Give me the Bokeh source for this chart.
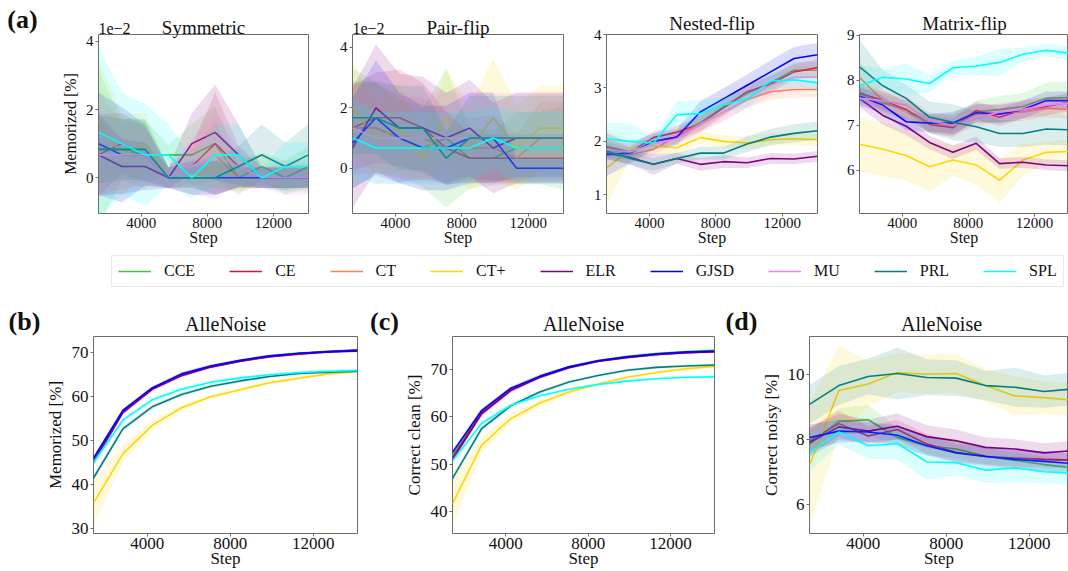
import numpy as np
from bokeh.plotting import figure
from bokeh.models import (Range1d, FixedTicker, Legend, LegendItem,
                          BasicTickFormatter, LinearAxis)
from bokeh.layouts import column, row
from bokeh.embed import file_html
from bokeh.resources import INLINE

FONT = "Liberation Serif"

STEPS = [1413, 2826, 4239, 5652, 7065, 8478, 9891, 11304, 12717, 14130]
METHODS = ["CCE", "CE", "CT", "CT+", "ELR", "GJSD", "MU", "PRL", "SPL"]
COLORS = {"CCE": "#32CD32", "CE": "#DC143C", "CT": "#FF7F50", "CT+": "#FFD700",
          "ELR": "#800080", "GJSD": "#0000FF", "MU": "#EE82EE", "PRL": "#008080",
          "SPL": "#00FFFF"}
X_TICKS = [4000, 8000, 12000]

# (a) Symmetric, memorized [%] in units of 1e-2
SYM_MEAN = {
    "CCE": [0.83, 0.83, 0.67, 0.67, 0.67, 1.0, 0.0, 0.33, 0.0, 0.33],
    "CE": [0.67, 1.0, 0.67, 0.0, 0.33, 1.0, 0.33, 0.0, 0.0, 0.0],
    "CT": [1.0, 0.67, 0.67, 0.0, 0.33, 0.67, 0.0, 0.0, 0.0, 0.0],
    "CT+": [1.67, 0.67, 1.0, 0.0, 0.0, 0.33, 0.0, 0.0, 0.0, 0.0],
    "ELR": [0.67, 0.33, 0.33, 0.0, 1.0, 1.33, 0.67, 0.0, 0.0, 0.0],
    "GJSD": [1.0, 0.67, 0.67, 0.0, 0.0, 0.0, 0.0, 0.0, 0.0, 0.0],
    "MU": [0.67, 0.67, 0.67, 0.0, 0.33, 0.67, 0.33, 0.0, 0.0, 0.0],
    "PRL": [0.83, 0.83, 0.83, 0.0, 0.0, 0.0, 0.33, 0.67, 0.33, 0.67],
    "SPL": [1.33, 1.0, 0.67, 0.67, 0.0, 0.67, 0.67, 0.0, 0.33, 0.33],
}
SYM_STD = {
    "CCE": [2.3, 0.9, 1.0, 0.3, 0.9, 1.1, 0.5, 0.4, 0.5, 0.6],
    "CE": [1.2, 0.9, 0.8, 0.3, 0.6, 1.5, 0.6, 0.3, 0.3, 0.3],
    "CT": [1.5, 1.0, 0.9, 0.3, 0.5, 1.0, 0.4, 0.3, 0.4, 0.4],
    "CT+": [1.8, 1.2, 0.9, 0.3, 0.5, 0.6, 0.3, 0.3, 0.3, 0.3],
    "ELR": [1.2, 0.8, 0.7, 0.3, 0.9, 1.4, 0.9, 0.3, 0.3, 0.3],
    "GJSD": [1.5, 1.4, 0.9, 0.3, 0.5, 0.5, 0.3, 0.3, 0.3, 0.3],
    "MU": [1.3, 0.8, 0.8, 0.3, 0.8, 1.3, 0.5, 0.3, 0.5, 0.5],
    "PRL": [1.0, 0.9, 0.9, 0.3, 0.3, 0.5, 0.6, 0.9, 0.7, 0.9],
    "SPL": [2.5, 1.5, 1.5, 0.9, 0.6, 0.9, 0.9, 0.3, 0.7, 0.7],
}

# (a) Pair-flip, units of 1e-2
PAIR_MEAN = {
    "CCE": [1.33, 1.33, 1.0, 0.67, 1.0, 0.33, 0.33, 0.67, 0.67, 0.67],
    "CE": [1.33, 1.67, 1.67, 1.33, 0.67, 0.33, 0.33, 0.33, 0.33, 0.33],
    "CT": [1.33, 1.33, 1.0, 1.0, 0.67, 0.67, 0.67, 0.33, 1.0, 1.0],
    "CT+": [2.0, 1.0, 1.33, 0.33, 1.67, 0.67, 1.67, 0.67, 1.33, 1.33],
    "ELR": [0.67, 2.0, 1.33, 1.33, 1.0, 1.33, 0.67, 1.0, 1.0, 1.0],
    "GJSD": [0.83, 1.67, 1.0, 0.67, 0.67, 1.0, 1.0, 0.0, 0.0, 0.0],
    "MU": [1.33, 1.0, 1.0, 1.0, 1.0, 1.0, 1.0, 1.0, 1.0, 1.0],
    "PRL": [1.67, 1.67, 1.33, 1.33, 0.33, 1.0, 1.0, 1.0, 1.0, 1.0],
    "SPL": [1.0, 0.67, 0.67, 0.67, 0.67, 0.67, 1.0, 0.67, 0.67, 0.67],
}
PAIR_STD = {
    "CCE": [2.0, 1.5, 1.3, 1.3, 2.3, 1.0, 0.9, 1.2, 1.2, 1.4],
    "CE": [1.4, 1.5, 1.6, 1.5, 1.2, 0.8, 0.8, 0.8, 0.8, 0.8],
    "CT": [1.5, 1.5, 1.4, 1.3, 1.2, 1.0, 1.1, 0.8, 1.2, 1.2],
    "CT+": [1.5, 1.2, 1.5, 0.8, 1.6, 1.4, 2.0, 1.4, 1.4, 1.4],
    "ELR": [2.0, 2.1, 1.8, 1.7, 1.5, 1.6, 1.5, 1.5, 1.5, 1.5],
    "GJSD": [1.5, 1.9, 1.5, 1.4, 1.4, 1.5, 1.5, 0.3, 0.3, 0.3],
    "MU": [1.5, 1.5, 1.5, 1.5, 1.5, 1.5, 1.5, 1.5, 1.5, 1.5],
    "PRL": [1.2, 1.2, 1.4, 1.4, 0.9, 1.4, 1.4, 1.4, 1.4, 1.4],
    "SPL": [1.3, 1.2, 1.2, 1.2, 1.2, 1.2, 1.0, 1.2, 1.2, 1.2],
}

# (a) Nested-flip
NEST_MEAN = {
    "CCE": [1.85, 1.78, 2.0, 2.08, 2.35, 2.65, 2.9, 3.1, 3.33, 3.33],
    "CE": [1.9, 1.8, 2.07, 2.17, 2.33, 2.63, 2.93, 3.07, 3.3, 3.38],
    "CT": [1.8, 1.75, 1.85, 2.1, 2.33, 2.55, 2.78, 2.93, 2.97, 2.97],
    "CT+": [1.5, 1.85, 1.92, 1.88, 2.07, 2.0, 1.97, 2.03, 2.05, 2.03],
    "ELR": [1.78, 1.7, 1.57, 1.68, 1.57, 1.62, 1.6, 1.68, 1.67, 1.72],
    "GJSD": [1.75, 1.78, 2.0, 2.08, 2.55, 2.8, 3.05, 3.3, 3.55, 3.62],
    "MU": [1.85, 1.8, 1.95, 2.05, 2.3, 2.55, 2.8, 3.05, 3.2, 3.2],
    "PRL": [1.82, 1.68, 1.57, 1.68, 1.78, 1.78, 1.95, 2.08, 2.15, 2.2],
    "SPL": [2.05, 2.0, 1.97, 2.5, 2.52, 2.68, 2.8, 3.13, 3.15, 3.1],
}
NEST_STD = {
    "CCE": [0.15, 0.1, 0.12, 0.12, 0.15, 0.15, 0.15, 0.15, 0.15, 0.15],
    "CE": [0.15, 0.1, 0.12, 0.12, 0.15, 0.15, 0.15, 0.15, 0.15, 0.15],
    "CT": [0.12, 0.1, 0.12, 0.12, 0.15, 0.15, 0.15, 0.15, 0.15, 0.15],
    "CT+": [0.7, 0.2, 0.12, 0.12, 0.12, 0.12, 0.12, 0.12, 0.12, 0.12],
    "ELR": [0.12, 0.12, 0.2, 0.1, 0.12, 0.12, 0.1, 0.1, 0.1, 0.1],
    "GJSD": [0.4, 0.2, 0.15, 0.15, 0.2, 0.2, 0.2, 0.22, 0.22, 0.22],
    "MU": [0.12, 0.1, 0.12, 0.12, 0.15, 0.18, 0.18, 0.2, 0.2, 0.2],
    "PRL": [0.15, 0.12, 0.12, 0.1, 0.12, 0.12, 0.15, 0.15, 0.17, 0.17],
    "SPL": [0.3, 0.35, 0.1, 0.25, 0.25, 0.15, 0.15, 0.15, 0.15, 0.15],
}

# (a) Matrix-flip
MAT_MEAN = {
    "CCE": [7.7, 7.5, 7.35, 7.05, 7.05, 7.3, 7.35, 7.42, 7.6, 7.62],
    "CE": [7.72, 7.55, 7.35, 7.02, 6.95, 7.33, 7.18, 7.35, 7.42, 7.52],
    "CT": [8.07, 7.55, 7.3, 7.05, 6.98, 7.25, 7.28, 7.3, 7.38, 7.35],
    "CT+": [6.58, 6.47, 6.33, 6.08, 6.23, 6.12, 5.78, 6.23, 6.4, 6.42],
    "ELR": [7.6, 7.22, 6.98, 6.62, 6.4, 6.6, 6.15, 6.18, 6.12, 6.1],
    "GJSD": [7.65, 7.45, 7.08, 7.05, 7.05, 7.28, 7.25, 7.35, 7.55, 7.55],
    "MU": [7.6, 7.55, 7.45, 7.1, 7.0, 7.15, 7.3, 7.35, 7.45, 7.5],
    "PRL": [8.3, 7.88, 7.6, 7.18, 7.07, 6.97, 6.82, 6.82, 6.92, 6.9],
    "SPL": [7.88, 8.07, 8.03, 7.93, 8.28, 8.32, 8.4, 8.58, 8.67, 8.6],
}
MAT_STD = {
    "CCE": [0.2, 0.2, 0.2, 0.2, 0.2, 0.25, 0.3, 0.3, 0.35, 0.35],
    "CE": [0.2, 0.2, 0.2, 0.2, 0.2, 0.2, 0.2, 0.2, 0.2, 0.2],
    "CT": [0.35, 0.25, 0.2, 0.2, 0.25, 0.2, 0.2, 0.2, 0.2, 0.2],
    "CT+": [0.6, 0.6, 0.55, 0.55, 0.35, 0.45, 0.5, 0.35, 0.25, 0.25],
    "ELR": [0.2, 0.2, 0.2, 0.15, 0.15, 0.15, 0.12, 0.12, 0.12, 0.12],
    "GJSD": [0.2, 0.2, 0.2, 0.2, 0.25, 0.2, 0.2, 0.2, 0.2, 0.2],
    "MU": [0.2, 0.2, 0.2, 0.2, 0.2, 0.2, 0.2, 0.2, 0.2, 0.2],
    "PRL": [0.6, 0.35, 0.3, 0.35, 0.4, 0.35, 0.3, 0.3, 0.35, 0.35],
    "SPL": [0.45, 0.2, 0.35, 0.2, 0.15, 0.2, 0.3, 0.15, 0.15, 0.15],
}

# (b) AlleNoise memorized [%]
ALLE_MEM_MEAN = {
    "CCE": [45.5, 56.6, 61.9, 65.0, 66.9, 68.2, 69.2, 69.8, 70.3, 70.6],
    "CE": [45.2, 56.5, 61.8, 64.9, 66.8, 68.1, 69.1, 69.7, 70.2, 70.5],
    "CT+": [35.8, 47.0, 53.5, 57.5, 60.0, 61.6, 63.2, 64.2, 65.2, 65.7],
    "ELR": [45.0, 56.4, 61.7, 64.8, 66.8, 68.1, 69.1, 69.8, 70.3, 70.6],
    "GJSD": [46.0, 56.9, 62.0, 65.2, 67.0, 68.3, 69.3, 69.9, 70.2, 70.4],
    "PRL": [41.5, 52.7, 57.7, 60.5, 62.4, 63.6, 64.6, 65.3, 65.6, 65.8],
    "SPL": [45.0, 54.7, 59.3, 61.7, 63.3, 64.3, 65.0, 65.5, 65.8, 66.0],
}
ALLE_MEM_STD = {
    "CCE": [0.6, 0.5, 0.4, 0.4, 0.4, 0.3, 0.3, 0.3, 0.3, 0.3],
    "CE": [0.6, 0.5, 0.4, 0.4, 0.4, 0.3, 0.3, 0.3, 0.3, 0.3],
    "CT+": [5.0, 2.0, 1.0, 0.7, 0.5, 0.5, 0.5, 0.4, 0.4, 0.4],
    "ELR": [0.6, 0.5, 0.4, 0.4, 0.4, 0.3, 0.3, 0.3, 0.3, 0.3],
    "GJSD": [0.6, 0.5, 0.4, 0.4, 0.4, 0.3, 0.3, 0.3, 0.3, 0.3],
    "PRL": [0.8, 0.6, 0.5, 0.5, 0.4, 0.4, 0.3, 0.3, 0.3, 0.3],
    "SPL": [0.7, 0.6, 0.5, 0.5, 0.4, 0.4, 0.3, 0.3, 0.3, 0.3],
}

# (c) AlleNoise correct clean [%]
ALLE_CLEAN_MEAN = {
    "CCE": [51.8, 61.0, 65.8, 68.5, 70.5, 71.8, 72.7, 73.3, 73.7, 74.0],
    "CE": [51.3, 60.8, 65.6, 68.4, 70.4, 71.7, 72.5, 73.1, 73.5, 73.7],
    "CT+": [41.7, 54.0, 59.6, 62.9, 65.2, 66.9, 68.3, 69.3, 70.1, 70.6],
    "ELR": [51.0, 60.6, 65.5, 68.3, 70.3, 71.7, 72.5, 73.1, 73.5, 73.7],
    "GJSD": [52.5, 61.3, 66.0, 68.5, 70.5, 71.8, 72.6, 73.2, 73.6, 73.8],
    "PRL": [47.0, 57.5, 62.3, 65.2, 67.3, 68.7, 69.8, 70.4, 70.7, 70.9],
    "SPL": [50.7, 58.6, 62.4, 64.4, 65.8, 66.8, 67.5, 68.0, 68.3, 68.4],
}
ALLE_CLEAN_STD = {
    "CCE": [0.6, 0.5, 0.4, 0.4, 0.3, 0.3, 0.3, 0.3, 0.3, 0.3],
    "CE": [0.6, 0.5, 0.4, 0.4, 0.3, 0.3, 0.3, 0.3, 0.3, 0.3],
    "CT+": [4.8, 1.8, 1.0, 0.8, 0.6, 0.5, 0.4, 0.4, 0.4, 0.4],
    "ELR": [0.6, 0.5, 0.4, 0.4, 0.3, 0.3, 0.3, 0.3, 0.3, 0.3],
    "GJSD": [0.6, 0.5, 0.4, 0.4, 0.3, 0.3, 0.3, 0.3, 0.3, 0.3],
    "PRL": [0.8, 0.6, 0.4, 0.4, 0.3, 0.3, 0.3, 0.3, 0.3, 0.3],
    "SPL": [0.7, 0.5, 0.4, 0.4, 0.3, 0.3, 0.3, 0.3, 0.3, 0.3],
}

# (d) AlleNoise correct noisy [%]
ALLE_NOISY_MEAN = {
    "CCE": [7.85, 8.55, 8.6, 8.05, 7.8, 7.7, 7.48, 7.35, 7.22, 7.12],
    "CE": [7.95, 8.48, 8.1, 8.3, 7.85, 7.6, 7.47, 7.42, 7.38, 7.35],
    "CT+": [7.2, 9.5, 9.7, 10.05, 10.0, 10.02, 9.65, 9.33, 9.28, 9.2],
    "ELR": [7.9, 8.38, 8.25, 8.4, 8.08, 7.95, 7.75, 7.7, 7.58, 7.65],
    "GJSD": [8.05, 8.25, 8.22, 8.12, 7.8, 7.58, 7.47, 7.38, 7.32, 7.25],
    "PRL": [9.07, 9.65, 9.93, 10.02, 9.9, 9.88, 9.65, 9.6, 9.47, 9.55],
    "SPL": [7.6, 8.22, 7.8, 7.87, 7.3, 7.28, 7.05, 7.12, 7.0, 6.95],
}
ALLE_NOISY_STD = {
    "CCE": [0.4, 0.4, 0.45, 0.3, 0.3, 0.3, 0.25, 0.25, 0.25, 0.25],
    "CE": [0.4, 0.4, 0.3, 0.3, 0.3, 0.3, 0.25, 0.25, 0.25, 0.25],
    "CT+": [1.9, 1.4, 0.7, 0.6, 0.6, 0.6, 0.5, 0.6, 0.5, 0.5],
    "ELR": [0.45, 0.4, 0.35, 0.4, 0.35, 0.35, 0.3, 0.3, 0.3, 0.3],
    "GJSD": [0.4, 0.35, 0.3, 0.3, 0.3, 0.3, 0.3, 0.3, 0.3, 0.3],
    "PRL": [0.6, 0.6, 0.55, 0.8, 0.55, 0.55, 0.45, 0.6, 0.5, 0.5],
    "SPL": [0.6, 0.4, 0.4, 0.5, 0.55, 0.4, 0.4, 0.45, 0.35, 0.35],
}

TITLE_TICK = int(round((STEPS[0] + STEPS[-1]) / 2))


def header_axis(text, tick, size, standoff, style="normal"):
    ax = LinearAxis(ticker=FixedTicker(ticks=[tick]),
                    major_label_overrides={tick: text})
    ax.axis_line_color = None
    ax.major_tick_line_color = None
    ax.minor_tick_line_color = None
    ax.major_tick_out = 0
    ax.major_tick_in = 0
    ax.minor_tick_out = 0
    ax.minor_tick_in = 0
    ax.major_label_standoff = standoff
    ax.major_label_text_font = FONT
    ax.major_label_text_font_size = size
    ax.major_label_text_font_style = style
    ax.major_label_text_color = "#111111"
    return ax


def make_panel(width, height, bl, br, bt, bb, xr, yr, yticks, means, stds,
               title, title_size, tick_size, label_size, ylabel=None,
               offset_text=None, title_standoff=1, step_standoff=-2):
    p = figure(width=width, height=height, x_range=Range1d(*xr), y_range=Range1d(*yr),
               output_backend="svg", toolbar_location=None,
               min_border_left=bl, min_border_right=br, min_border_top=bt, min_border_bottom=bb,
               background_fill_color="white", border_fill_color="white")
    p.grid.visible = False
    p.outline_line_color = "#6b6b6b"
    p.outline_line_width = 1
    for m in METHODS:
        if m not in means:
            continue
        mu = np.array(means[m])
        sd = np.array(stds[m])
        p.varea(x=STEPS, y1=mu - sd, y2=mu + sd, fill_color=COLORS[m], fill_alpha=0.14)
        p.line(STEPS, means[m], line_color=COLORS[m], line_width=1.6)
    xax = p.below[0]
    yax = p.left[0]
    xax.ticker = FixedTicker(ticks=X_TICKS)
    yax.ticker = FixedTicker(ticks=yticks)
    xax.formatter = BasicTickFormatter(use_scientific=False)
    for ax in (xax, yax):
        ax.axis_line_color = None
        ax.major_tick_line_color = "#6b6b6b"
        ax.major_tick_out = 3
        ax.major_tick_in = 0
        ax.minor_tick_line_color = None
        ax.major_label_text_font = FONT
        ax.major_label_text_font_size = tick_size
        ax.major_label_text_color = "#111111"
        ax.major_label_standoff = 2
        ax.axis_label_text_font = FONT
        ax.axis_label_text_font_size = label_size
        ax.axis_label_text_font_style = "normal"
        ax.axis_label_text_color = "#111111"
        ax.axis_label_standoff = 0
    xax.major_label_standoff = 1
    xax.axis_label = "Step"
    xax.axis_label_standoff = step_standoff
    if ylabel:
        yax.axis_label = ylabel
        yax.axis_label_standoff = 4
    fw = width - bl - br
    if offset_text:
        ppu = fw / (xr[1] - xr[0])
        tick = int(round(xr[0] + 16 / ppu))
        p.add_layout(header_axis(offset_text, tick, "16px", 1), "above")
        p.add_layout(header_axis(title, TITLE_TICK, title_size, title_standoff - 19), "above")
    else:
        p.add_layout(header_axis(title, TITLE_TICK, title_size, title_standoff), "above")
    return p


def tag_fig(width, height, text, center, top):
    f = figure(width=width, height=height, x_range=Range1d(0, width), y_range=Range1d(0, 1),
               x_axis_location=None, y_axis_location=None, toolbar_location=None,
               output_backend="svg", min_border_left=0, min_border_right=0,
               min_border_top=top, min_border_bottom=0, outline_line_color=None)
    f.grid.visible = False
    f.add_layout(header_axis(text, center, "26px", 1, style="bold"), "above")
    return f


# top row geometry
T1, B1, H1 = 32, 40, 253
ts1, ls1, tt1 = "15px", "16px", "19px"
ta = tag_fig(40, H1, "(a)", 22, 34)
a1 = make_panel(272, H1, 58, 4, T1, B1, (1413, 14130), (-1.05, 4.2), [0, 2, 4],
                SYM_MEAN, SYM_STD, "Symmetric", tt1, ts1, ls1,
                ylabel="Memorized [%]", offset_text="1e\u22122")
a2 = make_panel(254, H1, 40, 3, T1, B1, (1413, 14130), (-1.5, 4.43), [0, 2, 4],
                PAIR_MEAN, PAIR_STD, "Pair-flip", tt1, ts1, ls1,
                offset_text="1e\u22122")
a3 = make_panel(253, H1, 40, 2, T1, B1, (1413, 14130), (0.65, 4.0), [1, 2, 3, 4],
                NEST_MEAN, NEST_STD, "Nested-flip", tt1, ts1, ls1)
a4 = make_panel(249, H1, 40, 0, T1, B1, (1413, 14060), (5.04, 9.02), [6, 7, 8, 9],
                MAT_MEAN, MAT_STD, "Matrix-flip", tt1, ts1, ls1)

# legend strip
lf = figure(width=1068, height=38, x_range=Range1d(0, 1), y_range=Range1d(0, 1),
            x_axis_location=None, y_axis_location=None, toolbar_location=None,
            output_backend="svg", min_border=0, outline_line_color=None)
lf.grid.visible = False
items = []
for m in METHODS:
    r = lf.line(x=[0, 1], y=[5, 5], line_color=COLORS[m], line_width=1.6)
    items.append(LegendItem(label=m, renderers=[r]))
leg = Legend(items=items, orientation="horizontal", location=(111, 4),
             glyph_width=33, glyph_height=16, label_height=16, label_width=10,
             label_standoff=13, spacing=34, padding=6, margin=0,
             border_line_color="#d3d3d3", border_line_width=1,
             background_fill_color="white", background_fill_alpha=1.0,
             label_text_font=FONT, label_text_font_size="16px", label_text_color="#111111")
lf.add_layout(leg, "center")

# bottom row geometry
T2, B2, H2 = 45, 38, 280
ts2, ls2, tt2 = "17px", "17px", "20px"
tb = tag_fig(40, H2, "(b)", 24, 43)
b = make_panel(321, H2, 53, 4, T2, B2, (1413, 14130), (28.9, 73.7), [30, 40, 50, 60, 70],
               ALLE_MEM_MEAN, ALLE_MEM_STD, "AlleNoise", tt2, ts2, ls2,
               ylabel="Memorized [%]", title_standoff=2, step_standoff=-3)
tc = tag_fig(40, H2, "(c)", 23, 44)
c = make_panel(317, H2, 50, 4, T2, B2, (1413, 14130), (35.4, 76.9), [40, 50, 60, 70],
               ALLE_CLEAN_MEAN, ALLE_CLEAN_STD, "AlleNoise", tt2, ts2, ls2,
               ylabel="Correct clean [%]", title_standoff=2, step_standoff=-3)
td = tag_fig(40, H2, "(d)", 23, 44)
d = make_panel(310, H2, 51, 0, T2, B2, (1413, 13890), (5.1, 11.16), [6, 8, 10],
               ALLE_NOISY_MEAN, ALLE_NOISY_STD, "AlleNoise", tt2, ts2, ls2,
               ylabel="Correct noisy [%]", title_standoff=2, step_standoff=-3)

layout = column(row(ta, a1, a2, a3, a4), lf, row(tb, b, tc, c, td, d))
open("out.html", "w").write(file_html(layout, INLINE))
